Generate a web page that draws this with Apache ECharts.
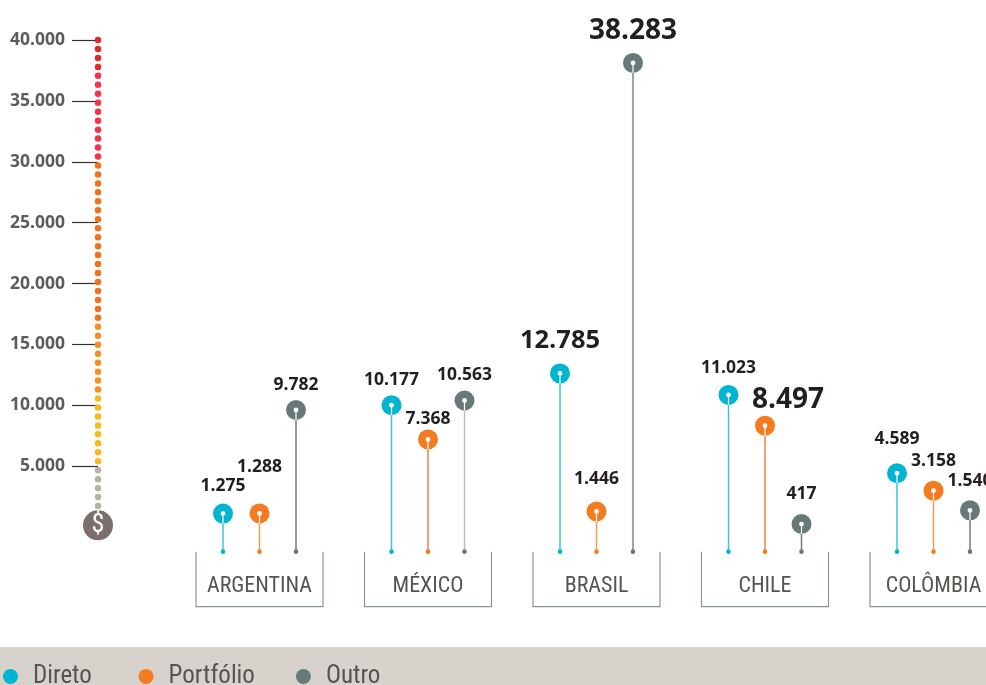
<!DOCTYPE html>
<html>
<head>
<meta charset="utf-8">
<style>
html,body{margin:0;padding:0;background:#fff;}
#chart{width:986px;height:685px;}
</style>
<script src="https://cdn.jsdelivr.net/npm/echarts@6/dist/echarts.min.js"></script>
</head>
<body>
<div id="chart"></div>
<script>
var countries=['ARGENTINA','MÉXICO','BRASIL','CHILE','COLÔMBIA'];
var direto=[1275,10177,12785,11023,4589];
var portfolio=[1288,7368,1446,8497,3158];
var outro=[9782,10563,38283,417,1540];
var tickValues=[5000,10000,15000,20000,25000,30000,35000,40000];

// pontos da escala, de cima para baixo
var scaleDark=[40000,39264,38528,37792];
var scaleRed=[37056,36320,35584,34848,34112,33376,32640,31904,31168,30432];
var scaleOrange=[29696,28960,28224,27488,26752,26016,25280,24544,23808,23072,22336,21600,20864,20128,19392,18656,17920,17184];
var scaleAmber=[16448,15712,14976,14240,13504,12768,12032,11296];
var scaleYellow=[10560,9824,9088,8352,7616,6880,6144,5408];
var scaleGrey=[4672,3936,3200,2464,1728];
var dollarValue=[150];

// aparencia, separada dos dados
var stemBase=-1850;
var groupStep=36.5;
var colors={direto:'#00b5d1',portfolio:'#f47b20',outro:'#68797a'};
var stemColors={direto:['#3cc3da','#3cc3da','#3cc3da','#3cc3da','#3cc3da'],
	portfolio:['#f69a5e','#f2824a','#f69a5e','#f2824a','#f69a5e'],
	outro:['#6c7a7a','#bdbcb6','#7c8888','#6c7a7a','#6c7a7a']};
// [dx,dy,tamanho] de cada rotulo em relacao ao circulo
var diretoLabels=[[0,-27.5,17.5],[0,-25,17.5],[0,-32.5,25.5],[0,-27,17.5],[0,-34,17.5]];
var portfolioLabels=[[0,-46,17.5],[0,-20,17.5],[0,-32,17.5],[23,-26,28],[0,-29.5,17.5]];
var outroLabels=[[0,-25,17.5],[0,-25,17.5],[0,-32,28],[0,-30,17.5],[0,-29,17.5]];

var BOLD='"Open Sans","Noto Sans",sans-serif';
var NARROW='"Roboto Condensed","Open Sans Condensed","Noto Sans Condensed","DejaVu Sans Condensed",sans-serif';

function fmt(v){
	return String(v).replace(/\B(?=(\d{3})+$)/g,'.');
}

function lollipop(name,values,color,stems,labels,shift){
	return {
		name:name,
		type:'custom',
		xAxisIndex:0,
		yAxisIndex:0,
		clip:false,
		itemStyle:{color:color},
		data:values.map(function(v,i){return [i,v];}),
		renderItem:function(params,api){
			var i=api.value(0);
			var top=api.coord([i,api.value(1)]);
			var base=api.coord([i,stemBase]);
			var x=top[0]+shift*groupStep;
			var lab=labels[i];
			return {type:'group',children:[
				{type:'line',shape:{x1:x,y1:top[1],x2:x,y2:base[1]},style:{stroke:stems[i],lineWidth:1.5}},
				{type:'circle',shape:{cx:x,cy:base[1],r:2.3},style:{fill:color}},
				{type:'circle',shape:{cx:x,cy:top[1],r:10},style:{fill:color}},
				{type:'line',shape:{x1:x,y1:top[1],x2:x,y2:top[1]+10},style:{stroke:'#fff',lineWidth:1.2}},
				{type:'circle',shape:{cx:x,cy:top[1],r:2.4},style:{fill:'#fff'}},
				{type:'text',x:x+lab[0],y:top[1]+lab[1],style:{
					text:fmt(api.value(1)),
					fontFamily:BOLD,
					fontWeight:'bold',
					fontSize:lab[2],
					fill:'#231f20',
					align:'center',
					verticalAlign:'middle'
				}}
			]};
		}
	};
}

function scaleDots(values,color){
	return {
		type:'scatter',
		xAxisIndex:1,
		yAxisIndex:1,
		symbolSize:6.5,
		silent:true,
		z:5,
		itemStyle:{color:color,opacity:1},
		data:values.map(function(v){return [0,v];})
	};
}

var myChart=echarts.init(document.getElementById('chart'),null,{renderer:'canvas'});
var option={
	animation:false,
	backgroundColor:'#fff',
	graphic:[{
		type:'rect',
		z:-10,
		shape:{x:0,y:647,width:986,height:38},
		style:{fill:'#d7d2cc'}
	}],
	legend:{
		data:['Direto','Portfólio','Outro'],
		left:3,
		top:664,
		padding:0,
		icon:'circle',
		itemWidth:15,
		itemHeight:15,
		itemGap:41,
		selectedMode:false,
		formatter:function(name){
			return name=='Direto'?name+'\u00a0':name;
		},
		textStyle:{
			fontFamily:NARROW,
			fontSize:25,
			color:'#55554f',
			padding:[0,0,0,10]
		}
	},
	grid:[
		{left:175.25,width:842.5,top:42,height:548,outerBoundsMode:'none'},
		{left:98,width:10,top:40,height:548,outerBoundsMode:'none'}
	],
	xAxis:[
		{
			type:'category',
			gridIndex:0,
			data:countries,
			offset:-15,
			axisLine:{show:false},
			axisTick:{show:false},
			axisLabel:{margin:0,interval:0,fontFamily:NARROW,fontSize:22,color:'#55554f'}
		},
		{type:'value',gridIndex:1,min:0,max:10,show:false}
	],
	yAxis:[
		{type:'value',gridIndex:0,min:-5000,max:40000,interval:5000,show:false},
		{
			type:'value',
			gridIndex:1,
			min:-5000,
			max:40000,
			interval:5000,
			axisLine:{show:false},
			splitLine:{show:false},
			axisTick:{show:true,length:26,customValues:tickValues,lineStyle:{color:'#333',width:1.2}},
			axisLabel:{
				show:true,
				margin:33,
				customValues:tickValues,
				fontFamily:BOLD,
				fontWeight:'bold',
				fontSize:17.5,
				color:'#5c5c5c',
				formatter:function(v){return fmt(v);}
			}
		}
	],
	series:[
		{
			type:'custom',
			xAxisIndex:0,
			yAxisIndex:0,
			clip:false,
			silent:true,
			data:countries.map(function(c,i){return [i];}),
			renderItem:function(params,api){
				var i=api.value(0);
				var p=api.coord([i,stemBase]);
				return {type:'polyline',shape:{points:[[p[0]-63.5,p[1]],[p[0]-63.5,p[1]+55],[p[0]+63.5,p[1]+55],[p[0]+63.5,p[1]]]},
					style:{fill:null,stroke:'#8a9696',lineWidth:1.2}};
			}
		},
		lollipop('Direto',direto,colors.direto,stemColors.direto,diretoLabels,-1),
		lollipop('Portfólio',portfolio,colors.portfolio,stemColors.portfolio,portfolioLabels,0),
		lollipop('Outro',outro,colors.outro,stemColors.outro,outroLabels,1),
		scaleDots(scaleDark,'#e02a2e'),
		scaleDots(scaleRed,'#f2354b'),
		scaleDots(scaleOrange,'#f0721f'),
		scaleDots(scaleAmber,'#f78f24'),
		scaleDots(scaleYellow,'#fdb51d'),
		scaleDots(scaleGrey,'#b9b1a5'),
		{
			type:'scatter',
			xAxisIndex:1,
			yAxisIndex:1,
			symbolSize:30,
			silent:true,
			z:6,
			itemStyle:{color:'#7b6f6b',opacity:1},
			label:{show:true,position:'inside',formatter:'$',fontFamily:NARROW,fontSize:26,color:'#fff'},
			data:dollarValue.map(function(v){return [0,v];})
		}
	]
};
myChart.setOption(option);
</script>
</body>
</html>
